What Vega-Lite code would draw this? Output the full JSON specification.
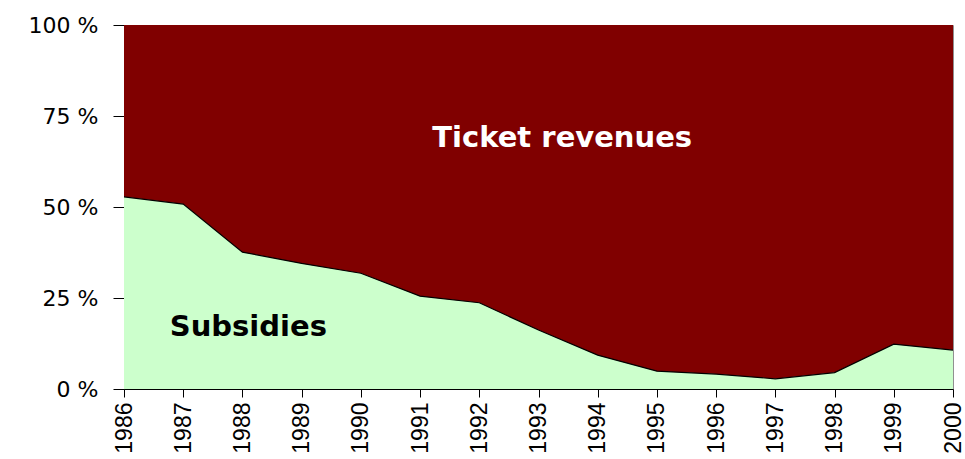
{
  "$schema": "https://vega.github.io/schema/vega-lite/v6.json",
  "width": 829,
  "height": 364,
  "autosize": {"type": "none"},
  "padding": {"left": 124, "top": 25, "right": 12, "bottom": 70},
  "background": "white",
  "config": {
    "view": {"stroke": "#909090", "strokeWidth": 1},
    "font": "Liberation Sans"
  },
  "datasets": {
    "shares": [
      {"year": 1986, "series": "Subsidies", "share": 52.8},
      {"year": 1987, "series": "Subsidies", "share": 50.8},
      {"year": 1988, "series": "Subsidies", "share": 37.6},
      {"year": 1989, "series": "Subsidies", "share": 34.5},
      {"year": 1990, "series": "Subsidies", "share": 31.8},
      {"year": 1991, "series": "Subsidies", "share": 25.5},
      {"year": 1992, "series": "Subsidies", "share": 23.7},
      {"year": 1993, "series": "Subsidies", "share": 16.2},
      {"year": 1994, "series": "Subsidies", "share": 9.3},
      {"year": 1995, "series": "Subsidies", "share": 4.9},
      {"year": 1996, "series": "Subsidies", "share": 4.1},
      {"year": 1997, "series": "Subsidies", "share": 2.8},
      {"year": 1998, "series": "Subsidies", "share": 4.5},
      {"year": 1999, "series": "Subsidies", "share": 12.3},
      {"year": 2000, "series": "Subsidies", "share": 10.7},
      {"year": 1986, "series": "Ticket revenues", "share": 47.2},
      {"year": 1987, "series": "Ticket revenues", "share": 49.2},
      {"year": 1988, "series": "Ticket revenues", "share": 62.4},
      {"year": 1989, "series": "Ticket revenues", "share": 65.5},
      {"year": 1990, "series": "Ticket revenues", "share": 68.2},
      {"year": 1991, "series": "Ticket revenues", "share": 74.5},
      {"year": 1992, "series": "Ticket revenues", "share": 76.3},
      {"year": 1993, "series": "Ticket revenues", "share": 83.8},
      {"year": 1994, "series": "Ticket revenues", "share": 90.7},
      {"year": 1995, "series": "Ticket revenues", "share": 95.1},
      {"year": 1996, "series": "Ticket revenues", "share": 95.9},
      {"year": 1997, "series": "Ticket revenues", "share": 97.2},
      {"year": 1998, "series": "Ticket revenues", "share": 95.5},
      {"year": 1999, "series": "Ticket revenues", "share": 87.7},
      {"year": 2000, "series": "Ticket revenues", "share": 89.3}
    ]
  },
  "encoding": {
    "x": {
      "field": "year",
      "type": "quantitative",
      "scale": {"domain": [1986, 2000], "nice": false, "zero": false},
      "axis": {
        "title": null,
        "values": [1986, 1987, 1988, 1989, 1990, 1991, 1992, 1993, 1994, 1995, 1996, 1997, 1998, 1999, 2000],
        "format": "d",
        "labelAngle": -90,
        "labelFontSize": 23,
        "labelColor": "black",
        "labelPadding": 5,
        "tickSize": 8,
        "tickColor": "black",
        "domainColor": "black",
        "grid": false,
        "labelFlush": false,
        "labelOverlap": false,
        "labelLimit": 200
      }
    }
  },
  "layer": [
    {
      "data": {"name": "shares"},
      "mark": {"type": "area", "interpolate": "linear"},
      "encoding": {
        "y": {
          "field": "share",
          "type": "quantitative",
          "stack": "zero",
          "scale": {"domain": [0, 100], "nice": false},
          "axis": {
            "title": null,
            "values": [0, 25, 50, 75, 100],
            "labelExpr": "datum.value + ' %'",
            "labelFontSize": 22,
            "labelFont": "DejaVu Sans",
            "labelColor": "black",
            "labelPadding": 15,
            "tickSize": 11,
            "tickColor": "black",
            "domainColor": "black",
            "grid": false
          }
        },
        "color": {
          "field": "series",
          "type": "nominal",
          "scale": {"domain": ["Subsidies", "Ticket revenues"], "range": ["#CCFFCC", "#800000"]},
          "legend": null
        },
        "order": {"field": "series", "sort": "ascending"}
      }
    },
    {
      "data": {"name": "shares"},
      "transform": [{"filter": "datum.series == 'Subsidies'"}],
      "mark": {"type": "line", "color": "black", "strokeWidth": 1.2},
      "encoding": {
        "y": {"field": "share", "type": "quantitative"}
      }
    },
    {
      "data": {"values": [{"year": 1993.4, "share": 69, "label": "Ticket revenues"}]},
      "mark": {"type": "text", "font": "DejaVu Sans", "fontWeight": "bold", "fontSize": 29, "color": "white", "align": "center", "baseline": "middle"},
      "encoding": {
        "y": {"field": "share", "type": "quantitative"},
        "text": {"field": "label"}
      }
    },
    {
      "data": {"values": [{"year": 1988.1, "share": 17, "label": "Subsidies"}]},
      "mark": {"type": "text", "font": "DejaVu Sans", "fontWeight": "bold", "fontSize": 29, "color": "black", "align": "center", "baseline": "middle"},
      "encoding": {
        "y": {"field": "share", "type": "quantitative"},
        "text": {"field": "label"}
      }
    }
  ]
}
